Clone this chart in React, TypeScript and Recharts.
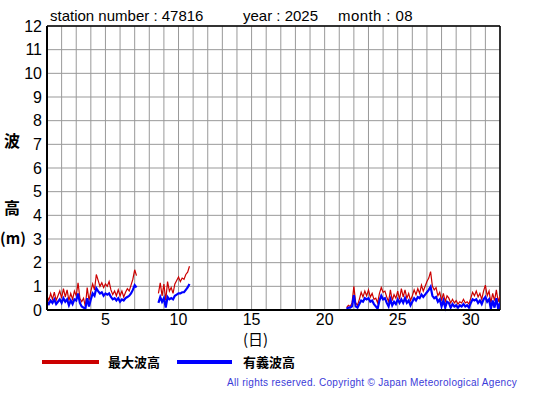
import React from 'react';
import { LineChart, Line, XAxis, YAxis, CartesianGrid, ReferenceLine } from 'recharts';

// time step (days) between readings
const stepDays = 0.125;

// segment 1: from Aug 1 00h
const seg1Start = 1;
const seg1Max = [0.6, 0.4, 0.7, 0.45, 0.75, 0.4, 0.6, 0.8, 0.5, 0.9, 0.55, 0.85, 0.4, 0.7, 0.45, 0.8,
  0.6, 1.15, 0.5, 0.35, 0.5, 0.15, 0.95, 0.4, 0.8, 1.1, 0.85, 1.5, 1.25, 1.0, 1.15, 0.95,
  1.1, 1.0, 1.2, 0.85, 0.65, 0.8, 0.6, 0.85, 0.6, 0.8, 0.55, 0.75, 0.9, 0.8, 1.05, 1.3, 1.7, 1.45];
const seg1Sig = [0.35, 0.25, 0.4, 0.3, 0.45, 0.25, 0.35, 0.45, 0.3, 0.5, 0.35, 0.45, 0.2, 0.4, 0.25, 0.45,
  0.4, 0.7, 0.3, 0.15, 0.1, 0.05, 0.5, 0.15, 0.45, 0.7, 0.6, 0.92, 0.8, 0.7, 0.75, 0.6,
  0.7, 0.65, 0.7, 0.55, 0.45, 0.5, 0.4, 0.5, 0.35, 0.45, 0.4, 0.5, 0.55, 0.6, 0.7, 0.85, 1.05, 0.95];

// segment 2
const seg2Start = 8.625;
const seg2Max = [0.7, 1.15, 0.6, 1.1, 0.4, 1.2, 0.8, 0.95, 0.7, 1.1, 1.25, 1.4, 1.2, 1.35, 1.3, 1.5, 1.6, 1.85];
const seg2Sig = [0.3, 0.55, 0.35, 0.5, 0.1, 0.55, 0.45, 0.5, 0.45, 0.6, 0.65, 0.7, 0.7, 0.75, 0.75, 0.85, 0.95, 1.1];

// segment 3
const seg3Start = 21.5;
const seg3Max = [0.1, 0.2, 0.15, 0.3, 1.0, 0.3, 0.2, 0.45, 0.75, 0.55, 0.8, 0.6, 0.85, 0.55, 0.7, 0.45,
  0.5, 0.3, 0.7, 0.95, 0.75, 0.8, 0.55, 0.35, 0.85, 0.4, 0.65, 0.5, 0.8, 0.45, 0.9, 0.55,
  0.85, 0.5, 0.7, 0.4, 0.6, 0.85, 0.65, 0.9, 0.7, 1.05, 0.8, 1.0, 1.2, 1.35, 1.62, 1.0,
  0.85, 0.95, 0.6, 0.75, 0.4, 0.7, 0.35, 0.6, 0.5, 0.3, 0.45, 0.3, 0.4, 0.25, 0.35, 0.3,
  0.45, 0.3, 0.35, 0.25, 0.5, 0.75, 0.6, 0.8, 0.55, 0.7, 0.45, 0.8, 1.05, 0.6, 0.8, 0.3,
  0.7, 0.4, 0.85, 0.35, 0.6];
const seg3Sig = [0.05, 0.1, 0.1, 0.15, 0.63, 0.15, 0.1, 0.25, 0.4, 0.35, 0.5, 0.45, 0.5, 0.35, 0.4, 0.25,
  0.15, 0.05, 0.4, 0.6, 0.45, 0.5, 0.3, 0.15, 0.45, 0.2, 0.35, 0.25, 0.45, 0.3, 0.45, 0.3,
  0.5, 0.3, 0.4, 0.2, 0.35, 0.5, 0.4, 0.55, 0.5, 0.65, 0.55, 0.65, 0.75, 0.85, 0.98, 0.6,
  0.5, 0.55, 0.35, 0.45, 0.15, 0.4, 0.1, 0.35, 0.3, 0.1, 0.25, 0.15, 0.2, 0.1, 0.2, 0.15,
  0.25, 0.15, 0.2, 0.1, 0.3, 0.45, 0.4, 0.45, 0.3, 0.4, 0.25, 0.45, 0.55, 0.35, 0.45, 0.05,
  0.4, 0.1, 0.5, 0.05, 0.3];

const dayTicks = Array.from({ length: 32 }, (_, i) => i + 1);
const labeledDays = [5, 10, 15, 20, 25, 30];
const heightTicks = [0, 1, 2, 3, 4, 5, 6, 7, 8, 9, 10, 11, 12];

type Row = { t: number; max: number | null; sig: number | null };

function segRows(start: number, maxArr: number[], sigArr: number[]): Row[] {
  return maxArr.map((m, i) => ({ t: start + i * stepDays, max: m, sig: sigArr[i] }));
}

const data: Row[] = [
  ...segRows(seg1Start, seg1Max, seg1Sig),
  { t: 7.5, max: null, sig: null },
  ...segRows(seg2Start, seg2Max, seg2Sig),
  { t: 15, max: null, sig: null },
  ...segRows(seg3Start, seg3Max, seg3Sig),
];

const legendItems = [
  { label: '最大波高', color: '#cc0000' },
  { label: '有義波高', color: '#0000ff' },
];

const sans = '"Liberation Sans", Arial, sans-serif';
const cjk = '"Noto Sans CJK JP", sans-serif';

export default function App() {
  return (
    <div style={{ position: 'absolute', left: 0, top: 0, width: 555, height: 395, background: '#fff' }}>
      <LineChart width={555} height={395} data={data} margin={{ top: 26, right: 55, bottom: 55, left: 0 }}>
        <CartesianGrid stroke="#999" strokeWidth={1} />
        <XAxis
          dataKey="t"
          type="number"
          domain={[1, 32]}
          ticks={dayTicks}
          interval={0}
          tickFormatter={(v: number) => (labeledDays.includes(v) ? String(v) : '')}
          tickLine={false}
          tickSize={2}
          height={30}
          axisLine={{ stroke: '#000', strokeWidth: 2 }}
          tick={{ fill: '#000', fontSize: 16, fontFamily: sans }}
          allowDataOverflow
        />
        <YAxis
          type="number"
          domain={[0, 12]}
          ticks={heightTicks}
          interval={0}
          width={47}
          tickLine={false}
          tickSize={3}
          axisLine={{ stroke: '#000', strokeWidth: 2 }}
          tick={{ fill: '#000', fontSize: 16, fontFamily: sans }}
        />
        <ReferenceLine y={12} stroke="#000" strokeWidth={1.5} />
        <ReferenceLine x={32} stroke="#000" strokeWidth={1.5} />
        <Line dataKey="max" stroke="#cc0000" strokeWidth={1.2} dot={false} isAnimationActive={false} connectNulls={false} />
        <Line dataKey="sig" stroke="#0000ff" strokeWidth={2.2} dot={false} isAnimationActive={false} connectNulls={false} />
      </LineChart>
      <div style={{ position: 'absolute', left: 42, top: 360, width: 57, height: 4, background: legendItems[0].color }} />
      <div style={{ position: 'absolute', left: 108, top: 352, fontFamily: cjk, fontWeight: 700, fontSize: 13, lineHeight: '20px', color: '#000' }}>{legendItems[0].label}</div>
      <div style={{ position: 'absolute', left: 177, top: 360, width: 55, height: 4, background: legendItems[1].color }} />
      <div style={{ position: 'absolute', left: 243, top: 352, fontFamily: cjk, fontWeight: 700, fontSize: 13, lineHeight: '20px', color: '#000' }}>{legendItems[1].label}</div>
      <div style={{ position: 'absolute', left: 50, top: 7, fontFamily: sans, fontSize: 15, whiteSpace: 'pre', color: '#000' }}>station number : 47816</div>
      <div style={{ position: 'absolute', left: 243, top: 7, fontFamily: sans, fontSize: 15, whiteSpace: 'pre', color: '#000' }}>year : 2025</div>
      <div style={{ position: 'absolute', left: 338, top: 7, fontFamily: sans, fontSize: 15, letterSpacing: 0.4, whiteSpace: 'pre', color: '#000' }}>month : 08</div>
      <div style={{ position: 'absolute', left: 4, top: 130, fontFamily: cjk, fontSize: 16, fontWeight: 700, lineHeight: '20px' }}>波</div>
      <div style={{ position: 'absolute', left: 4, top: 197, fontFamily: cjk, fontSize: 16, fontWeight: 700, lineHeight: '20px' }}>高</div>
      <div style={{ position: 'absolute', left: 0, top: 228, fontFamily: cjk, fontSize: 15, fontWeight: 700, lineHeight: '20px', whiteSpace: 'pre' }}>(m)</div>
      <div style={{ position: 'absolute', left: 243, top: 331, fontFamily: cjk, fontSize: 15, lineHeight: '16px', whiteSpace: 'pre' }}>(日)</div>
      <div style={{ position: 'absolute', right: 38, top: 377, fontFamily: sans, fontSize: 10, letterSpacing: 0.3, color: '#3a3ad8', whiteSpace: 'pre' }}>All rights reserved. Copyright © Japan Meteorological Agency</div>
    </div>
  );
}
